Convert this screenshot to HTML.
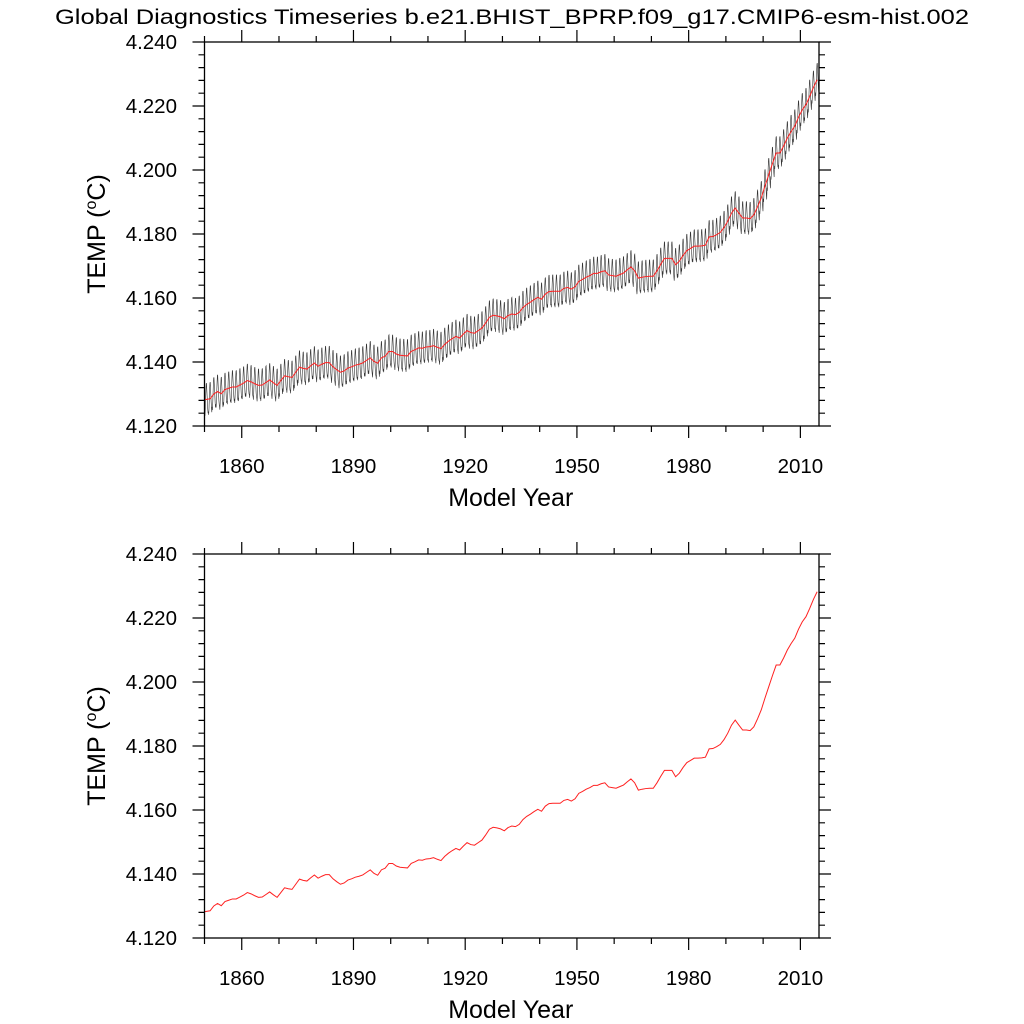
<!DOCTYPE html>
<html><head><meta charset="utf-8"><style>
html,body{margin:0;padding:0;background:#fff;}
svg{display:block;font-family:"Liberation Sans",Helvetica,Arial,sans-serif;}
</style></head><body>
<svg id="chart" width="1024" height="1024" viewBox="0 0 1024 1024">
<rect width="1024" height="1024" fill="#fff"/>
<text x="512" y="24" font-size="21" text-anchor="middle" textLength="914" lengthAdjust="spacingAndGlyphs">Global Diagnostics Timeseries b.e21.BHIST_BPRP.f09_g17.CMIP6-esm-hist.002</text>
<g id="p1"></g>
<g id="p2"></g>
</svg>
<script>
const startYear = 1850;
const annualTemp = [
4.1282,4.1285,4.1300,4.1308,4.1301,4.1314,4.1318,4.1322,4.1322,4.1328,
4.1334,4.1342,4.1338,4.1332,4.1327,4.1328,4.1336,4.1344,4.1335,4.1327,
4.1342,4.1357,4.1354,4.1352,4.1368,4.1384,4.1380,4.1378,4.1388,4.1397,
4.1387,4.1393,4.1398,4.1398,4.1385,4.1376,4.1368,4.1372,4.1381,4.1385,
4.1390,4.1393,4.1397,4.1405,4.1413,4.1402,4.1396,4.1413,4.1418,4.1433,
4.1433,4.1425,4.1421,4.1420,4.1419,4.1433,4.1438,4.1444,4.1443,4.1447,
4.1448,4.1451,4.1446,4.1442,4.1455,4.1465,4.1473,4.1480,4.1475,4.1487,
4.1498,4.1492,4.1490,4.1498,4.1506,4.1522,4.1540,4.1546,4.1544,4.1541,
4.1535,4.1545,4.1550,4.1548,4.1555,4.1570,4.1580,4.1587,4.1595,4.1602,
4.1596,4.1612,4.1620,4.1621,4.1621,4.1621,4.1630,4.1633,4.1628,4.1635,
4.1652,4.1658,4.1665,4.1670,4.1677,4.1677,4.1682,4.1685,4.1672,4.1670,
4.1668,4.1673,4.1678,4.1688,4.1697,4.1685,4.1662,4.1665,4.1667,4.1668,
4.1668,4.1685,4.1705,4.1724,4.1724,4.1724,4.1704,4.1715,4.1733,4.1748,
4.1755,4.1762,4.1762,4.1763,4.1765,4.1791,4.1792,4.1798,4.1805,4.1820,
4.1840,4.1865,4.1881,4.1865,4.1850,4.1850,4.1848,4.1860,4.1885,4.1913,
4.1950,4.1985,4.2020,4.2053,4.2053,4.2075,4.2100,4.2120,4.2137,4.2165,
4.2188,4.2204,4.2230,4.2258,4.2282];
const seasonalAnomaly = [-0.0040,-0.0050,-0.0030,0.0000,0.0030,0.0050,0.0052,0.0030,0.0010,-0.0010,-0.0030,-0.0042];
const yTickValues = [4.120,4.140,4.160,4.180,4.200,4.220,4.240];
const yTickLabels = ["4.120","4.140","4.160","4.180","4.200","4.220","4.240"];
const xTickValues = [1860,1890,1920,1950,1980,2010];
const xTickLabels = ["1860","1890","1920","1950","1980","2010"];

const NS='http://www.w3.org/2000/svg';
function mk(parent, tag, attrs){const e=document.createElementNS(NS,tag);for(const k in attrs)e.setAttribute(k,attrs[k]);parent.appendChild(e);return e;}

function drawPanel(g, top, showMonthly){
  const L=204.5,R=819,T=top,B=top+384;
  const xMin=1850,xMax=2015,yMin=4.12,yMax=4.24;
  const xs=v=>L+(v-xMin)/(xMax-xMin)*(R-L);
  const ys=v=>B-(v-yMin)/(yMax-yMin)*(B-T);
  let tk='';
  for(let y=1850;y<=2015;y+=10){const x=xs(y);const maj=(y-1860)%30===0;const l=maj?12:6;
    tk+=`M${x},${B}V${B+l}M${x},${T}V${T-l}`;}
  for(let i=0;i<=30;i++){const v=yMin+i*0.004;const y=ys(v);const maj=i%5===0;const l=maj?12:6;
    tk+=`M${L},${y}H${L-l}M${R},${y}H${R+l}`;}
  const ticks=mk(g,'path',{d:tk,stroke:'#000','stroke-width':1.2,fill:'none'});
  
  
  if(showMonthly){
    let d='';
    annualTemp.forEach((a,i)=>{seasonalAnomaly.forEach((s,m)=>{
      const t=startYear+i+(m+0.5)/12;
      d+=(d?'L':'M')+xs(t).toFixed(2)+','+ys(a+s).toFixed(2);});});
    const ml=mk(g,'path',{d:d,stroke:'#333','stroke-width':0.6,fill:'none'});
    
    
  }
  let d2='';
  annualTemp.forEach((a,i)=>{const t=startYear+i+(i===0?0:0.5);d2+=(i?'L':'M')+xs(t).toFixed(2)+','+ys(a).toFixed(2);});
  const al=mk(g,'path',{d:d2,stroke:'#ff2020','stroke-width':1,fill:'none'});
  
  
  const fr=mk(g,'rect',{x:L,y:T,width:R-L,height:B-T,fill:'none',stroke:'#000','stroke-width':1.3});
  
  
  yTickValues.forEach((v,i)=>{const t=mk(g,'text',{x:177,y:ys(v)+7,'font-size':20.5,'text-anchor':'end'});t.textContent=yTickLabels[i];
    
    });
  xTickValues.forEach((v,i)=>{const t=mk(g,'text',{x:xs(v),y:B+47,'font-size':20.5,'text-anchor':'middle'});t.textContent=xTickLabels[i];
    
    });
  const xt=mk(g,'text',{x:(L+R)/2-1,y:B+80,'font-size':25,'text-anchor':'middle'});xt.textContent='Model Year';
  
  
  const yt=mk(g,'text',{x:0,y:0,'font-size':25,'text-anchor':'middle',transform:`translate(105,${(T+B)/2}) rotate(-90)`});
  yt.innerHTML='TEMP (<tspan font-size="16" dy="-9">o</tspan><tspan dy="9">C)</tspan>';
  
  
}
drawPanel(document.getElementById('p1'),42,true);
drawPanel(document.getElementById('p2'),554,false);
</script>
</body></html>
